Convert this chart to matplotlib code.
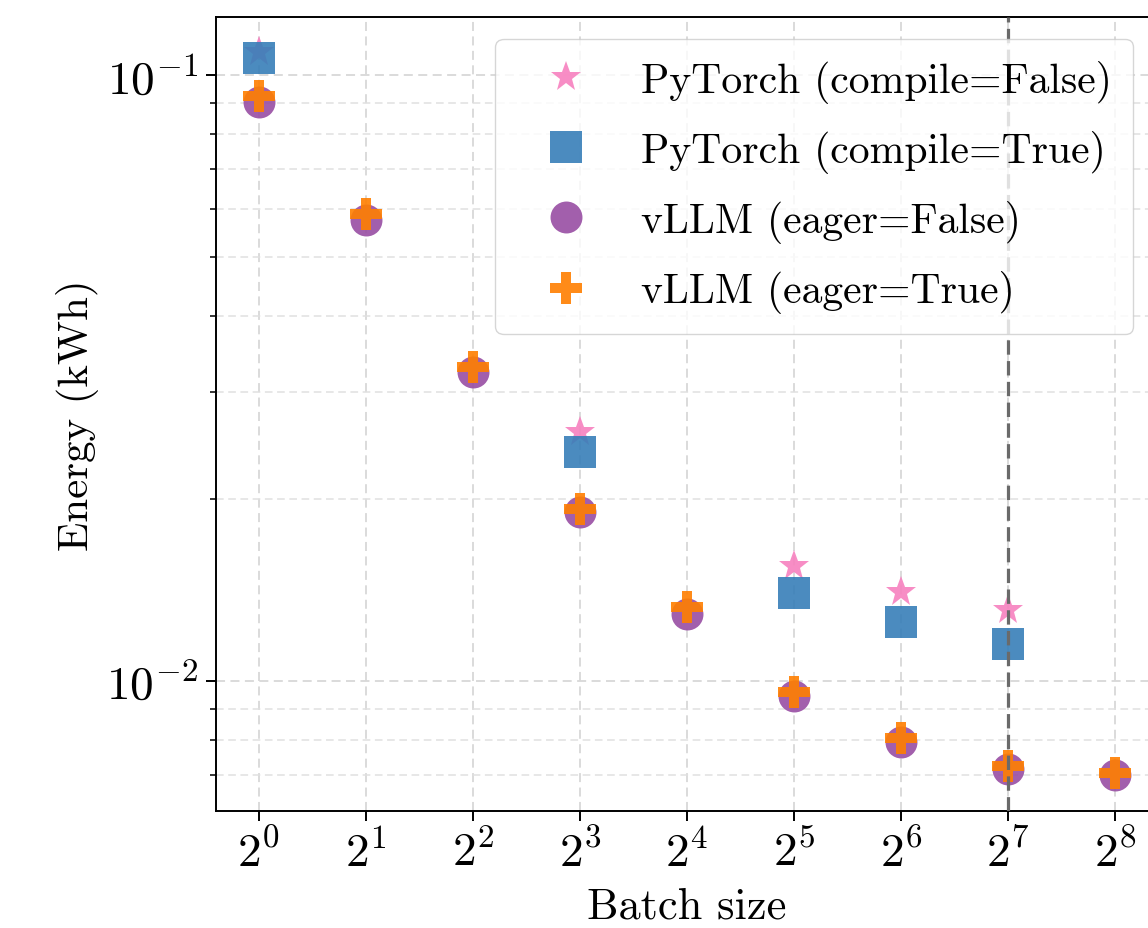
import matplotlib
matplotlib.use("Agg")
import matplotlib.pyplot as plt
from matplotlib.ticker import LogLocator, NullFormatter, LogFormatterSciNotation

plt.rcParams['font.family'] = 'serif'
plt.rcParams['font.serif'] = ['cmr10', 'DejaVu Serif']
plt.rcParams['mathtext.fontset'] = 'cm'
plt.rcParams['axes.formatter.use_mathtext'] = True
plt.rcParams['axes.unicode_minus'] = False

# ---- data ----
batch_pt = [1, 8, 32, 64, 128]
pt_compile_false = [0.1091, 0.02576, 0.01548, 0.01402, 0.01309]
pt_compile_true = [0.1067, 0.02388, 0.01396, 0.01252, 0.01151]

batch_vllm = [1, 2, 4, 8, 16, 32, 64, 128, 256]
vllm_eager_false = [0.0902, 0.05766, 0.03236, 0.01901, 0.01291, 0.00944, 0.00793, 0.00716, 0.00700]
vllm_eager_true = [0.0923, 0.05902, 0.03298, 0.01922, 0.01324, 0.00959, 0.00805, 0.00725, 0.00705]

labels = ["PyTorch (compile=False)", "PyTorch (compile=True)",
          "vLLM (eager=False)", "vLLM (eager=True)"]
colors = ["#f781bf", "#377eb8", "#984ea3", "#ff7f00"]
markers = ["*", "s", "o", "P"]
vline_x = 128

fig = plt.figure(figsize=(11.48, 9.29), dpi=100)
ax = fig.add_axes([0.18815, 0.12594, 0.82056, 0.85468])

series = [(batch_pt, pt_compile_false), (batch_pt, pt_compile_true),
          (batch_vllm, vllm_eager_false), (batch_vllm, vllm_eager_true)]
ms = [23, 23, 23, 23]
for (xs, ys), lab, c, m, s in zip(series, labels, colors, markers, ms):
    ax.plot(xs, ys, linestyle='none', marker=m, markersize=s, color=c,
            alpha=0.9, markeredgewidth=0, label=lab, zorder=3)

ax.axvline(vline_x, color='#6a6a6a', linestyle=(0, (4.5, 2)), linewidth=2.3, zorder=4)

ax.set_xscale('log', base=2)
ax.set_yscale('log')
ax.set_xlim(2 ** -0.4, 2 ** 8.4)
ax.set_ylim(0.0061, 0.1247)

ax.xaxis.set_major_locator(LogLocator(base=2, numticks=20))
ax.xaxis.set_minor_locator(LogLocator(base=2, subs=[], numticks=20))
ax.xaxis.set_major_formatter(LogFormatterSciNotation(base=2))
ax.yaxis.set_minor_formatter(NullFormatter())

ax.grid(True, which='major', axis='both', color='#d8d8d8', linestyle=(0, (5, 3)), linewidth=1.3, zorder=0)
ax.grid(True, which='minor', axis='y', color='#e0e0e0', linestyle=(0, (5, 3)), linewidth=1.1, zorder=0)
ax.set_axisbelow(True)

for sp in ax.spines.values():
    sp.set_linewidth(1.4)
ax.tick_params(axis='both', which='major', labelsize=34, length=7, width=1.4, pad=6)
ax.tick_params(axis='y', which='minor', length=4.5, width=1.1)

ax.set_xlabel("Batch size", fontsize=32, labelpad=8)
ax.set_ylabel("Energy (kWh)", fontsize=31, labelpad=5)

leg = ax.legend(loc='upper right', bbox_to_anchor=(1133 / 1148, 1 - 40 / 929),
                bbox_transform=fig.transFigure, borderaxespad=0, fontsize=30,
                handlelength=2.4, handletextpad=0.6, framealpha=0.8,
                borderpad=0.5, labelspacing=0.65,
                edgecolor='#cccccc', markerscale=1.0)
leg.set_zorder(10)

fig.savefig("out.png", dpi=100)
